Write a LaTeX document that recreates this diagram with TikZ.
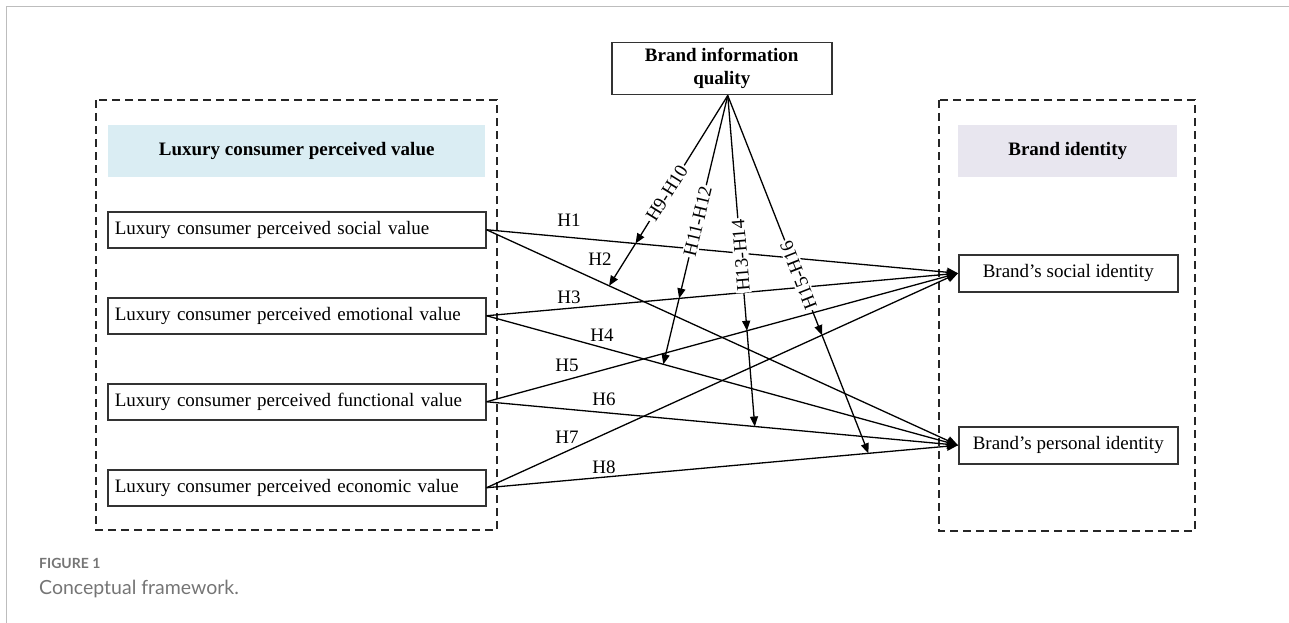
\documentclass[tikz,border=0pt]{standalone}
\usepackage{fontspec}
\setmainfont{Liberation Serif}
\newfontfamily\capfont{Lato}
\usetikzlibrary{arrows.meta,calc}
\definecolor{hdrblue}{HTML}{DAEDF3}
\definecolor{hdrlav}{HTML}{E8E6EF}
\definecolor{capgray}{HTML}{757575}
\definecolor{framegray}{HTML}{BDBDBD}
\begin{document}
\begin{tikzpicture}[x=1pt,y=-1pt,
  every node/.style={font=\fontsize{19}{23}\selectfont},
  leftbox/.style={draw=black!80, line width=1.5pt, anchor=north west, text width=364pt, align=left, inner xsep=7pt, inner ysep=0pt, minimum height=36pt},
  rightbox/.style={draw=black!80, line width=1.5pt, anchor=north west, minimum width=219pt, minimum height=37pt, inner sep=0pt},
  header/.style={anchor=north west, minimum height=52pt, inner sep=0pt, font=\bfseries\fontsize{19}{23}\selectfont},
  group/.style={draw=black!85, line width=1.4pt, dash pattern=on 8pt off 5pt},
  link/.style={line width=1.3pt, -{Triangle[length=11pt,width=9pt]}},
  modarrow/.style={line width=1.3pt, -{Triangle[length=10pt,width=8pt]}},
  hlab/.style={inner sep=1pt},
  mlab/.style={fill=white, inner sep=1.5pt, sloped, allow upside down},
]
\useasboundingbox (0,0) rectangle (1289,623);
% outer frame
\draw[framegray, line width=1pt] (6.5,623) -- (6.5,6.5) -- (1289,6.5);
% group frames
\draw[group] (96,100) rectangle (497,530);
\draw[group] (939,100) rectangle (1195,531);
% headers
\node[header, fill=hdrblue, minimum width=377pt] (lcpv) at (108,125) {Luxury consumer perceived value};
\node[header, fill=hdrlav, minimum width=219pt] (bi) at (958,125) {Brand identity};
% left boxes
\node[leftbox] (sv) at (107,211) {Luxury consumer perceived social value};
\node[leftbox] (ev) at (107,297) {Luxury consumer perceived emotional value};
\node[leftbox] (fv) at (107,383) {Luxury consumer perceived functional value};
\node[leftbox] (cv) at (107,469) {Luxury consumer perceived economic value};
% right boxes
\node[rightbox] (si) at (958,254) {Brand’s social identity};
\node[rightbox] (pi) at (958,426) {Brand’s personal identity};
% moderator
\node[draw=black!80, line width=1.5pt, anchor=north west, minimum width=220pt, minimum height=52pt, inner sep=0pt, align=center, font=\bfseries\fontsize{19}{23}\selectfont] (biq) at (611,42) {Brand information\\quality};
% endpoints
\coordinate (svE) at (sv.east);
\coordinate (evE) at (ev.east);
\coordinate (fvE) at (fv.east);
\coordinate (cvE) at (cv.east);
\coordinate (siW) at (si.west);
\coordinate (piW) at (pi.west);
% direct links
\draw[link] (sv.east) -- (si.west);
\draw[link] (sv.east) -- (pi.west);
\draw[link] (ev.east) -- (si.west);
\draw[link] (ev.east) -- (pi.west);
\draw[link] (fv.east) -- (si.west);
\draw[link] (fv.east) -- (pi.west);
\draw[link] (cv.east) -- (si.west);
\draw[link] (cv.east) -- (pi.west);
% hypothesis labels
\node[hlab] (h1) at (569,220) {H1};
\node[hlab] (h2) at (600,259) {H2};
\node[hlab] (h3) at (569,297) {H3};
\node[hlab] (h4) at (602,335) {H4};
\node[hlab] (h5) at (567,365) {H5};
\node[hlab] (h6) at (604,399) {H6};
\node[hlab] (h7) at (567,437) {H7};
\node[hlab] (h8) at (604,467) {H8};
% moderating links
\coordinate (src) at ([xshift=6pt]biq.south);
\coordinate (m1b) at ($(svE)!0.26!(piW)$);
\coordinate (m1a) at (intersection of src--m1b and svE--siW);
\coordinate (m2b) at ($(evE)!0.375!(piW)$);
\coordinate (m2a) at (intersection of src--m2b and evE--siW);
\coordinate (m3b) at ($(fvE)!0.569!(piW)$);
\coordinate (m3a) at (intersection of src--m3b and fvE--siW);
\coordinate (m4b) at ($(cvE)!0.81!(piW)$);
\coordinate (m4a) at (intersection of src--m4b and cvE--siW);
\draw[modarrow] (src) -- (m1a);
\draw[modarrow] (m1a) -- (m1b);
\draw[modarrow] (src) -- (m2a);
\draw[modarrow] (m2a) -- (m2b);
\draw[modarrow] (src) -- (m3a);
\draw[modarrow] (m3a) -- (m3b);
\draw[modarrow] (src) -- (m4a);
\draw[modarrow] (m4a) -- (m4b);
\path (m1a) -- (src) node[mlab, pos=0.34] (l1) {H9-H10};
\path (m2a) -- (src) node[mlab, pos=0.38] (l2) {H11-H12};
\path (m3a) -- (src) node[mlab, pos=0.32] (l3) {H13-H14};
\path (m4a) -- (src) node[mlab, pos=0.25] (l4) {H15-H16};
% caption
\node[anchor=base west, inner sep=0pt, text=capgray, font=\capfont\bfseries\fontsize{14}{17}\selectfont] (fig) at (39,568) {FIGURE 1};
\node[anchor=base west, inner sep=0pt, text=capgray, font=\capfont\fontsize{19.5}{23}\selectfont] (cap) at (39,594) {Conceptual framework.};
\end{tikzpicture}
\end{document}
